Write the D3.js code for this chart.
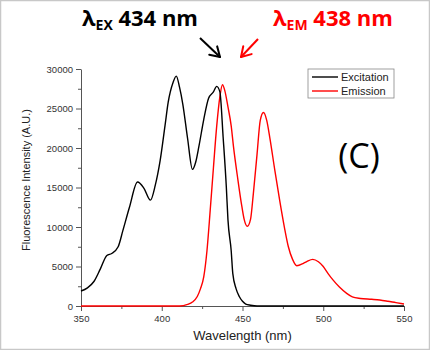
<!DOCTYPE html>
<html>
<head>
<meta charset="utf-8">
<script src="https://cdn.jsdelivr.net/npm/d3@7"></script>
<style>
  body { margin: 0; background: #fff; }
  svg { display: block; }
</style>
</head>
<body>
<svg id="chart"></svg>
<script>
// excitation spectrum (black)
var exWave = [350, 354, 358, 362, 366, 369, 373, 376, 380, 385, 389, 393, 396, 399, 402, 404, 407, 409, 411, 413, 416, 419, 421, 423, 426, 429, 432, 434, 436, 438, 440, 441, 443, 444, 446, 448, 450, 452, 455, 459, 470, 500, 550];
var exVal = [1900, 2300, 3100, 4700, 6400, 6650, 7500, 9600, 12500, 15700, 14900, 13400, 15300, 18400, 22800, 25800, 28300, 29100, 27700, 25600, 21200, 17300, 18200, 20200, 23600, 26300, 27100, 27800, 27100, 21400, 15000, 10900, 7000, 4100, 2200, 1200, 600, 250, 100, 0, 0, 0, 0];

// emission spectrum (red)
var emWave = [350, 380, 411, 416, 419, 422, 424, 426, 428, 430, 432, 434, 436, 437.6, 439, 441, 443, 444.4, 447, 449.6, 451, 453, 455, 456.7, 459, 461, 463, 465, 467, 470, 473, 476, 478.4, 481, 483.6, 487.7, 490, 493.5, 497, 500, 503, 506, 510, 514.5, 518, 523, 530, 535, 540, 545, 550];
var emVal = [0, 0, 0, 200, 500, 1200, 2200, 3700, 7000, 12100, 17500, 22700, 26500, 28000, 27300, 25200, 22800, 20200, 16200, 12600, 11000, 10100, 11000, 14200, 19200, 23500, 24500, 23500, 21200, 17200, 13400, 9900, 7500, 5900, 5100, 5400, 5650, 5900, 5600, 5000, 4100, 3300, 2400, 1600, 1150, 950, 850, 760, 600, 420, 250];

var seriesNames = ["Excitation", "Emission"];
var seriesColors = ["#000000", "#ff0000"];
var xTicks = [350, 400, 450, 500, 550];
var yTicks = [0, 5000, 10000, 15000, 20000, 25000, 30000];

var W = 430, H = 350;
var margin = {top: 69, right: 26, bottom: 44, left: 81};
var width = W - margin.left - margin.right;
var height = H - margin.top - margin.bottom;

var svg = d3.select('#chart')
    .attr('width', W)
    .attr('height', H);

// light frame round the picture
svg.append('rect')
    .attr('x', 0.5).attr('y', 0.5)
    .attr('width', W - 1).attr('height', H - 1)
    .attr('fill', '#fff')
    .attr('stroke', '#c8c8c8')
    .attr('stroke-width', 1.5);

var g = svg.append('g')
    .attr('transform', 'translate(' + margin.left + ',' + margin.top + ')');

var x = d3.scaleLinear().domain([350, 550]).range([0, width]);
var y = d3.scaleLinear().domain([0, 30000]).range([height, 0]);

// minor ticks first
g.append('g')
    .attr('transform', 'translate(0,' + height + ')')
    .call(d3.axisBottom(x).tickValues(d3.range(375, 550, 50)).tickSize(3).tickFormat(''))
    .call(a => a.select('.domain').remove());
g.append('g')
    .call(d3.axisLeft(y).tickValues(d3.range(2500, 30000, 5000)).tickSize(3).tickFormat(''))
    .call(a => a.select('.domain').remove());

// main axes
g.append('g')
    .attr('transform', 'translate(0,' + height + ')')
    .call(d3.axisBottom(x).tickValues(xTicks).tickSize(5).tickSizeOuter(0).tickPadding(4).tickFormat(d3.format('d')));
g.append('g')
    .call(d3.axisLeft(y).tickValues(yTicks).tickSize(5).tickSizeOuter(0).tickPadding(3).tickFormat(d3.format('d')));

g.selectAll('.domain, .tick line').attr('stroke', '#555').attr('stroke-width', 1);
g.selectAll('.tick text')
    .attr('fill', '#333')
    .style('font-family', 'Arial, "Liberation Sans", sans-serif')
    .style('font-size', '9.5px');

// curves
var line = d3.line()
    .x(d => x(d[0]))
    .y(d => y(d[1]))
    .curve(d3.curveMonotoneX);

var exData = exWave.map((w, i) => [w, exVal[i]]);
var emData = emWave.map((w, i) => [w, emVal[i]]);

g.append('path')
    .datum(emData)
    .attr('d', line)
    .attr('fill', 'none')
    .attr('stroke', seriesColors[1])
    .attr('stroke-width', 1.4);

g.append('path')
    .datum(exData)
    .attr('d', line)
    .attr('fill', 'none')
    .attr('stroke', seriesColors[0])
    .attr('stroke-width', 1.4);

// axis titles
svg.append('text')
    .attr('x', x(450) + margin.left)
    .attr('y', 340)
    .attr('text-anchor', 'middle')
    .style('font-family', 'Arial, "Liberation Sans", sans-serif')
    .style('font-size', '13px')
    .attr('fill', '#222')
    .text('Wavelength (nm)');

svg.append('text')
    .attr('transform', 'translate(30,180) rotate(-90)')
    .attr('text-anchor', 'middle')
    .style('font-family', 'Arial, "Liberation Sans", sans-serif')
    .style('font-size', '11px')
    .attr('fill', '#222')
    .text('Fluorescence Intensity (A.U.)');

// legend
var leg = svg.append('g').attr('transform', 'translate(308,69)');
leg.append('rect')
    .attr('width', 86).attr('height', 29)
    .attr('fill', '#fff')
    .attr('stroke', '#888')
    .attr('stroke-width', 0.8);
seriesNames.forEach(function(name, i) {
  var ly = 8 + i * 14;
  leg.append('line')
      .attr('x1', 4).attr('x2', 30)
      .attr('y1', ly).attr('y2', ly)
      .attr('stroke', seriesColors[i])
      .attr('stroke-width', 1.4);
  leg.append('text')
      .attr('x', 33).attr('y', ly + 4)
      .style('font-family', 'Arial, "Liberation Sans", sans-serif')
      .style('font-size', '11px')
      .attr('fill', '#222')
      .text(name);
});

// panel label
svg.append('text')
    .attr('x', 359).attr('y', 168)
    .attr('text-anchor', 'middle')
    .style('font-family', '"Open Sans", sans-serif')
    .style('font-size', '34px')
    .attr('fill', '#000')
    .text('(C)');

// wavelength annotations
function annot(xPos, sub, rest, color) {
  var t = svg.append('text')
      .attr('x', xPos).attr('y', 26)
      .style('font-family', '"Open Sans", sans-serif')
      .style('font-weight', 'bold')
      .style('font-size', '22px')
      .attr('fill', color);
  t.append('tspan').text('λ');
  t.append('tspan').attr('dy', 4).style('font-size', '14px').text(sub);
  t.append('tspan').attr('dy', -4).text(' ' + rest);
}
annot(82, 'EX', '434 nm', '#000');
annot(273, 'EM', '438 nm', '#ff0000');

// arrows
function arrow(x1, y1, x2, y2, color) {
  svg.append('line')
      .attr('x1', x1).attr('y1', y1).attr('x2', x2).attr('y2', y2)
      .attr('stroke', color).attr('stroke-width', 2);
  var ang = Math.atan2(y2 - y1, x2 - x1);
  var L = 11, spread = 0.55;
  [ang + Math.PI - spread, ang + Math.PI + spread].forEach(function(a) {
    svg.append('line')
        .attr('x1', x2).attr('y1', y2)
        .attr('x2', x2 + L * Math.cos(a)).attr('y2', y2 + L * Math.sin(a))
        .attr('stroke', color).attr('stroke-width', 2)
        .attr('stroke-linecap', 'round');
  });
}
arrow(200, 38, 220, 57, '#000');
arrow(258, 39, 241, 57, '#ff0000');
</script>
</body>
</html>
